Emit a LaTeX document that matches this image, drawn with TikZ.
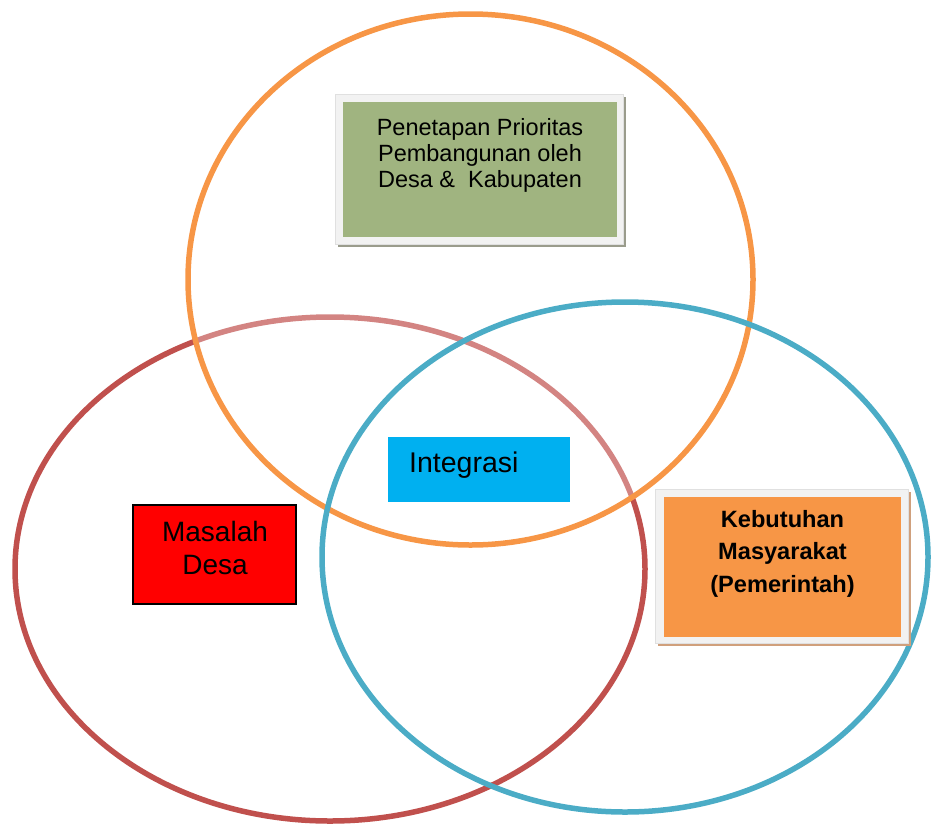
\documentclass[tikz,border=0pt]{standalone}
\usepackage{fontspec}
\setmainfont{Liberation Sans}
\definecolor{redring}{HTML}{C0504D}
\definecolor{orangering}{HTML}{F79646}
\definecolor{bluering}{HTML}{4BACC6}
\definecolor{boxgreen}{HTML}{A0B480}
\definecolor{greenshadow}{HTML}{9A9C8C}
\definecolor{boxorange}{HTML}{F79646}
\definecolor{orangeshadow}{HTML}{D0A07C}
\definecolor{boxblue}{HTML}{00B0F0}
\definecolor{framegray}{HTML}{F2F2F2}
\begin{document}
\begin{tikzpicture}[x=1pt,y=-1pt,
  ring/.style={line width=5.5pt},
  shadowbox/.style={inner sep=0pt, draw=none},
  framebox/.style={draw=black!12, line width=0.6pt, fill=framegray, inner sep=0pt},
  plainbox/.style={inner sep=0pt, draw=none},
  label23/.style={inner sep=0pt, align=center, font=\fontsize{23.5}{26}\selectfont},
]
\useasboundingbox (0,0) rectangle (931,825);
% rings
\draw[ring, draw=redring] (330,569) ellipse [x radius=315pt, y radius=252pt];
\draw[ring, draw=orangering, fill=white, fill opacity=0.3] (470.5,279.5) ellipse [x radius=282.5pt, y radius=265.5pt];
\draw[ring, draw=bluering] (625,557) ellipse [x radius=303pt, y radius=255pt];
% green box
\node[shadowbox, fill=greenshadow, minimum width=288pt, minimum height=150pt] (gshadow) at (482,172) {};
\node[framebox, minimum width=288pt, minimum height=150pt] (gframe) at (479,169) {};
\node[plainbox, fill=boxgreen, minimum width=274pt, minimum height=135pt] (gbox) at (480,169.5) {};
\node[label23] (gtext) at (480,155) {Penetapan Prioritas\\Pembangunan oleh\\Desa \&~ Kabupaten};
% orange box
\node[shadowbox, fill=orangeshadow, minimum width=253pt, minimum height=154pt] (oshadow) at (784.5,569) {};
\node[framebox, minimum width=253pt, minimum height=154pt] (oframe) at (781.5,566) {};
\node[plainbox, fill=boxorange, minimum width=237pt, minimum height=140pt] (obox) at (782.5,567) {};
\node[inner sep=0pt, align=center, font=\fontsize{23.6}{32.5}\selectfont\bfseries] (otext) at (782.5,553.5) {Kebutuhan\\Masyarakat\\(Pemerintah)};
% red box
\node[draw=black, line width=2pt, fill=red, minimum width=163pt, minimum height=99pt, inner sep=0pt] (rbox) at (214.5,554.5) {};
\node[inner sep=0pt, align=center, font=\fontsize{28}{33}\selectfont] (rtext) at (215,548.3) {Masalah\\Desa};
% integrasi
\node[plainbox, fill=boxblue, minimum width=182pt, minimum height=65pt] (ibox) at (479,469.5) {};
\node[inner sep=0pt, anchor=west, font=\fontsize{28.5}{33}\selectfont] (itext) at (409,465.5) {Integrasi};
\end{tikzpicture}
\end{document}
